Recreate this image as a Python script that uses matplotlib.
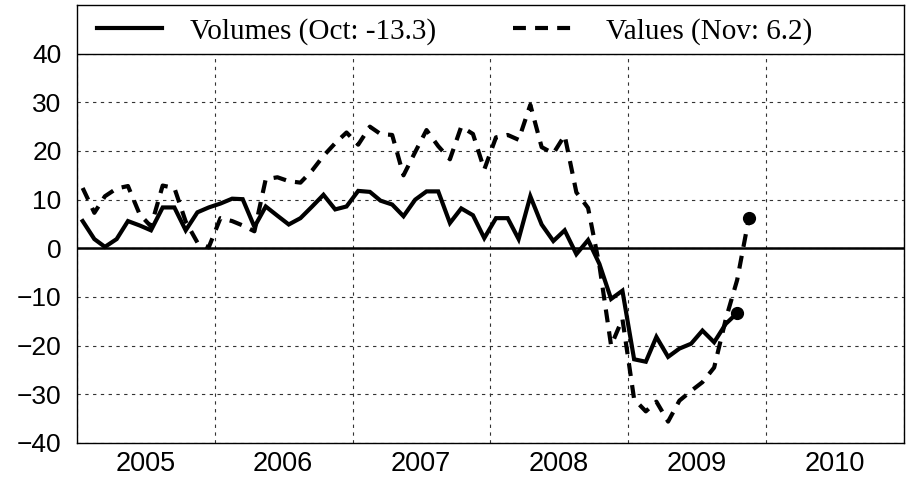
import matplotlib
matplotlib.use("Agg")
import matplotlib.pyplot as plt
import matplotlib.dates as mdates
import matplotlib.patches as mpatches
import pandas as pd

# monthly % changes, volumes Jan 2005 - Oct 2009, values Jan 2005 - Nov 2009
volumes = [
    5.6, 1.9, 0.3, 1.9, 5.6, 4.7, 3.7, 8.4, 8.4, 3.7, 7.4, 8.4,
    9.2, 10.2, 10.1, 4.4, 8.6, 6.7, 4.9, 6.2, 8.6, 11.0, 8.0, 8.6,
    11.8, 11.6, 9.8, 9.0, 6.6, 10.0, 11.7, 11.7, 5.2, 8.2, 6.8, 2.1,
    6.2, 6.2, 1.9, 10.7, 4.9, 1.5, 3.7, -1.2, 1.7, -3.2, -10.4, -8.7,
    -22.8, -23.3, -18.2, -22.3, -20.6, -19.6, -16.9, -19.3, -15.5, -13.3,
]
values = [
    12.4, 7.3, 10.7, 12.3, 12.8, 7.0, 4.5, 12.9, 12.4, 5.5, 1.2, 0.2,
    6.2, 5.6, 4.7, 3.5, 14.2, 14.6, 13.8, 13.5, 16.0, 19.0, 21.6, 23.8,
    21.3, 25.0, 23.5, 23.3, 15.0, 19.8, 24.3, 21.0, 18.3, 25.0, 23.5, 16.2,
    22.8, 23.3, 22.3, 29.5, 20.8, 19.5, 23.2, 11.5, 8.3, -3.5, -20.0, -14.5,
    -31.0, -33.5, -31.5, -35.6, -31.3, -29.3, -27.5, -24.5, -14.5, -6.5, 6.2,
]
vol_label = "Volumes (Oct: -13.3)"
val_label = "Values (Nov: 6.2)"
y_ticks = [-40, -30, -20, -10, 0, 10, 20, 30, 40]

# points plotted mid-month
vol_dates = pd.date_range("2005-01-01", periods=len(volumes), freq="MS") + pd.Timedelta(days=15)
val_dates = pd.date_range("2005-01-01", periods=len(values), freq="MS") + pd.Timedelta(days=15)

fig = plt.figure(figsize=(9.09, 4.79), dpi=100)
ax = fig.add_axes([77 / 909, 36 / 479, 827 / 909, 438 / 479])

ax.plot(vol_dates, volumes, color="black", lw=3.0, solid_joinstyle="miter",
        label=vol_label, zorder=4)
ax.plot(val_dates, values, color="black", lw=3.0, linestyle=(0, (3.1, 2.2)),
        label=val_label, zorder=4)
ax.plot(vol_dates[-1:], volumes[-1:], "o", color="black", ms=8.5, zorder=5)
ax.plot(val_dates[-1:], values[-1:], "o", color="black", ms=8.5, zorder=5)

ax.axhline(0, color="black", lw=1.8, zorder=3)

ax.set_xlim(pd.Timestamp("2005-01-01"), pd.Timestamp("2011-01-01"))
ax.set_ylim(-40, 50)
ax.set_yticks(y_ticks)

ax.xaxis.set_major_locator(mdates.YearLocator())
ax.xaxis.set_major_formatter(plt.NullFormatter())
ax.xaxis.set_minor_locator(mdates.MonthLocator(bymonth=7))
ax.xaxis.set_minor_formatter(mdates.DateFormatter("%Y"))

ax.tick_params(axis="both", which="both", length=0)
ax.tick_params(axis="y", labelsize=19, pad=11)
ax.tick_params(axis="x", which="minor", labelsize=19.5, pad=6)
for lab in ax.get_xticklabels(minor=True) + ax.get_yticklabels():
    lab.set_fontfamily("Liberation Sans")

ax.grid(True, which="major", color="#333333", lw=0.8, linestyle=(0, (3, 4)))
ax.set_axisbelow(True)
for s in ax.spines.values():
    s.set_linewidth(1.0)
    s.set_color("black")

# legend band across the top of the plot
band = mpatches.Rectangle((0, 40), 1, 10, transform=ax.get_yaxis_transform(),
                          facecolor="white", edgecolor="none", zorder=2.5)
ax.add_patch(band)
ax.axhline(40, color="black", lw=1.0, zorder=3)

leg = ax.legend(loc="center left", bbox_to_anchor=(20 / 827, 84.6 / 90), ncol=2,
                frameon=False, borderpad=0, borderaxespad=0,
                handlelength=2.23, columnspacing=2.64, handletextpad=0.96,
                prop={"family": "Liberation Serif", "size": 21})
leg.set_zorder(6)

plt.savefig("out.png", dpi=100)
